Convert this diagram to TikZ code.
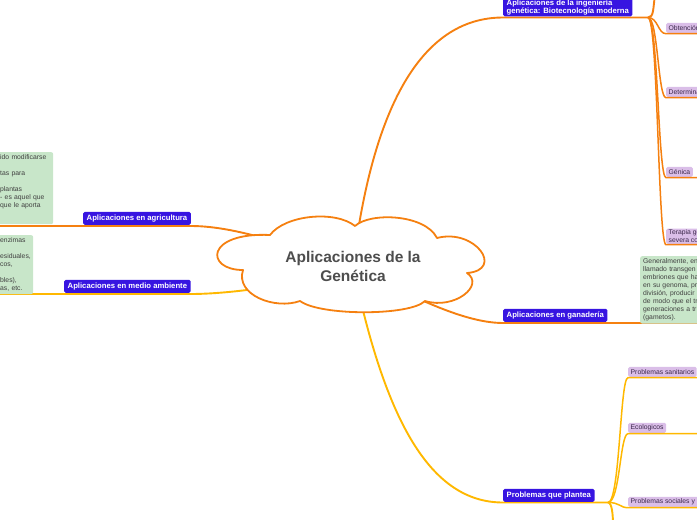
\documentclass[tikz,border=0pt]{standalone}
\usepackage{fontspec}
\setmainfont{Liberation Sans}
\usetikzlibrary{backgrounds}
\definecolor{naranja}{RGB}{245,128,16}
\definecolor{amarillo}{RGB}{255,184,0}
\definecolor{azul}{RGB}{55,20,225}
\definecolor{lila}{RGB}{218,190,232}
\definecolor{verde}{RGB}{200,230,201}
\definecolor{gristexto}{RGB}{77,77,77}
\definecolor{textolila}{RGB}{60,40,75}

\begin{document}
\begin{tikzpicture}
  [x=1pt, y=-1pt,
   titulo/.style={align=center, text=gristexto, font=\fontsize{15.5}{18.5}\selectfont\bfseries},
   rama/.style={rectangle, rounded corners=1.5pt, fill=azul, text=white, font=\fontsize{7.7}{8.5}\selectfont\bfseries, inner xsep=3.5pt, inner ysep=1pt, minimum height=13pt},
   sub/.style={rectangle, rounded corners=1.5pt, fill=lila, text=textolila, font=\fontsize{6.8}{8}\selectfont, inner xsep=2.5pt, inner ysep=1pt, minimum height=10pt, align=left},
   nota/.style={rectangle, rounded corners=2pt, fill=verde, text=black!75, font=\fontsize{6.8}{8}\selectfont, align=left, inner xsep=3pt, inner ysep=2.5pt},
   borde/.style={draw=naranja, line width=1.8pt, fill=white, line join=round},
   linea/.style={line width=1.9pt, draw=naranja},
   lineaam/.style={line width=1.9pt, draw=amarillo},
   fina/.style={line width=1.5pt}]

  \useasboundingbox (0,0) rectangle (697,520);
  \clip (0,0) rectangle (697,520);

  % Idea central
  \node[titulo] (nube) at (353,266.5) {Aplicaciones de la\\Genética};

  % Ramas
  \node[rama, anchor=south west] (agri) at (83,225) {Aplicaciones en agricultura};
  \node[rama, anchor=south west] (medio) at (64,293) {Aplicaciones en medio ambiente};
  \node[rama, anchor=south west, align=left] (inge) at (503,16.5) {Aplicaciones de la ingeniería\\genética: Biotecnología moderna};
  \node[rama, anchor=south west] (gana) at (503,322) {Aplicaciones en ganadería};
  \node[rama, anchor=south west] (prob) at (503,502) {Problemas que plantea};

  % Notas
  \node[nota, anchor=north west, text width=50pt] (notaagri) at (-3,152)
    {ido modificarse\\[8pt]tas para\\[8pt]plantas\\- es aquel que\\que le aporta\\[6pt]\mbox{}};
  \node[nota, anchor=north west, text width=30pt] (notamedio) at (-3,235)
    {enzimas\\[8pt]esiduales,\\cos,\\[8pt]bles),\\as, etc.};
  \node[nota, anchor=north west, text width=80pt] (notagana) at (640,256)
    {Generalmente, en\\llamado transgen\\embriones que ha\\en su genoma, pr\\división, producir\\de modo que el tr\\generaciones a tr\\(gametos).};

  % Subramas
  \node[sub, anchor=south west] (obt) at (666,33) {Obtención};
  \node[sub, anchor=south west] (det) at (666,97) {Determinación};
  \node[sub, anchor=south west] (gen) at (666,177) {Génica};
  \node[sub, anchor=south west] (ter) at (666,244) {Terapia génica\\severa combinada};
  \node[sub, anchor=south west] (san) at (628,377) {Problemas sanitarios};
  \node[sub, anchor=south west] (eco) at (628,433) {Ecologicos};
  \node[sub, anchor=south west] (soc) at (628,507) {Problemas sociales y éticos};

  % Puntos libres
  \coordinate (finagri) at (-5,226);
  \coordinate (finmedio) at (-5,294);
  \coordinate (fingana) at (705,323);
  \coordinate (bordeder) at (705,0);
  \coordinate (jinge) at (648,17.5);
  \coordinate (arriba) at (655,-5);
  \coordinate (jprob) at (608,502.5);
  \coordinate (abajo) at (613,525);

  % Ramas desde la nube (por debajo de ella)
  \begin{pgfonlayer}{background}
    \draw[linea] (nube.center) .. controls (300,250) and (240,226) .. (agri.south east |- finagri) -- (finagri);
    \draw[lineaam] (nube.center) .. controls (300,285) and (230,294) .. (medio.south east |- finmedio) -- (finmedio);
    \draw[linea] (nube.center) .. controls (372,110) and (420,17.5) .. (inge.south west |- jinge) -- (jinge);
    \draw[linea] (nube.center) .. controls (400,290) and (460,323) .. (gana.south west |- fingana) -- (fingana);
    \draw[lineaam] (nube.center) .. controls (385,420) and (430,502.5) .. (prob.south west |- jprob) -- (jprob);

    % Contorno de la nube
    \draw[borde] (270,235) .. controls (285,215) and (335,210) .. (355,226)
      .. controls (370,212) and (425,214) .. (437,238)
      .. controls (475,228) and (505,270) .. (467,273)
      .. controls (485,285) and (455,310) .. (425,301)
      .. controls (410,316) and (320,316) .. (300,301)
      .. controls (275,310) and (235,295) .. (243,270)
      .. controls (205,270) and (205,232) .. cycle;
  \end{pgfonlayer}

  % Subramas
  \draw[linea] (jinge) .. controls (654,17.5) and (653,8) .. (arriba);
  \foreach \n in {obt,det,gen,ter}
    \draw[linea, fina] (jinge) .. controls +(10,0) and +(-8,0) .. ([yshift=-0.7pt]\n.south west) -- ([yshift=-0.7pt]\n.south west -| bordeder);

  \draw[lineaam] (jprob) .. controls +(4,0) and +(0,-10) .. (abajo);
  \foreach \n in {san,eco,soc}
    \draw[lineaam, fina] (jprob) .. controls +(12,0) and +(-8,0) .. ([yshift=-0.7pt]\n.south west) -- ([yshift=-0.7pt]\n.south west -| bordeder);
\end{tikzpicture}
\end{document}
